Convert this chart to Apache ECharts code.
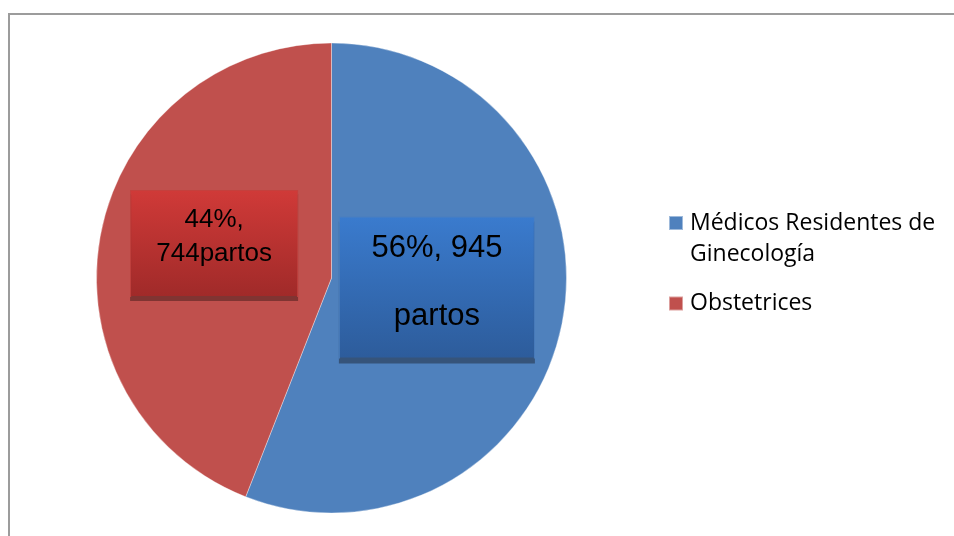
<!DOCTYPE html>
<html>
<head>
<meta charset="utf-8">
<script src="https://cdn.jsdelivr.net/npm/echarts@6/dist/echarts.min.js"></script>
<style>
  html, body { margin: 0; padding: 0; background: #ffffff; }
  #chart { width: 954px; height: 536px; }
</style>
</head>
<body>
<div id="chart"></div>
<script>
// Births attended, by who attended them
const categories = ['Médicos Residentes de Ginecología', 'Obstetrices'];
const births = [945, 744];
const unitWord = 'partos';

const sliceColors = ['#4F81BD', '#C0504D'];

const total = births.reduce((a, b) => a + b, 0);
const pct = v => Math.round(v / total * 100);

const chart = echarts.init(document.getElementById('chart'));

// label box look for each slice
const labelBoxes = [
  {
    width: 194, height: 136, padding: [0, 0, 4, 0],
    backgroundColor: new echarts.graphic.LinearGradient(0, 0, 0, 1, [
      { offset: 0, color: '#3A7BCE' }, { offset: 1, color: '#2D5C9B' }
    ]),
    borderColor: '#4A7FC0', borderWidth: 1,
    shadowColor: '#36547A', shadowOffsetY: 5, shadowBlur: 0,
    formatter: p => '{a|' + pct(p.value) + '%, ' + p.value + '}\n{b|' + unitWord + '}',
    rich: {
      a: { fontFamily: 'Liberation Sans', fontSize: 31, lineHeight: 62, color: '#000' },
      b: { fontFamily: 'Liberation Sans', fontSize: 31, lineHeight: 74, color: '#000' }
    }
  },
  {
    width: 166, height: 68, padding: [12, 0, 25, 0],
    backgroundColor: new echarts.graphic.LinearGradient(0, 0, 0, 1, [
      { offset: 0, color: '#D03A38' }, { offset: 1, color: '#A02A29' }
    ]),
    borderColor: '#C4403D', borderWidth: 1,
    shadowColor: '#803432', shadowOffsetY: 4, shadowBlur: 0,
    formatter: p => '{a|' + pct(p.value) + '%,}\n{a|' + p.value + unitWord + '}',
    rich: {
      a: { fontFamily: 'Liberation Sans', fontSize: 26, lineHeight: 34, color: '#000' }
    }
  }
];

const labelShift = [{ dx: -13, dy: -13 }, { dx: 1, dy: -12 }];

const pieData = categories.map((name, i) => ({
  name,
  value: births[i],
  itemStyle: { color: sliceColors[i] },
  label: Object.assign({ show: true, position: 'inside', align: 'center' }, labelBoxes[i])
}));

const legendRich = {
  t: { fontFamily: 'Open Sans', fontSize: 23, lineHeight: 31, color: '#000', padding: [0, 0, 0, 2] },
  p: { fontSize: 10, lineHeight: 31 }
};

chart.setOption({
  animation: false,
  backgroundColor: '#ffffff',
  graphic: [{
    type: 'rect',
    shape: { x: 9, y: 14, width: 970, height: 560 },
    style: { fill: 'none', stroke: '#9C9C9C', lineWidth: 2 },
    silent: true
  }],
  legend: [
    {
      // leading blank line keeps the marker level with the first text line
      data: [categories[0]],
      left: 668, top: 187, padding: 0,
      orient: 'vertical',
      itemWidth: 14, itemHeight: 14,
      icon: 'rect',
      formatter: n => '{p| }\n' + n.replace(' Ginecología', '\nGinecología')
        .split('\n').map(s => '{t|' + s + '}').join('\n'),
      textStyle: { rich: legendRich }
    },
    {
      data: [categories[1]],
      left: 668, top: 292, padding: 0,
      orient: 'vertical',
      itemWidth: 14, itemHeight: 14,
      icon: 'rect',
      formatter: n => '{t|' + n + '}',
      textStyle: { rich: legendRich }
    }
  ],
  series: [{
    type: 'pie',
    center: [331.5, 278],
    radius: 235,
    startAngle: 90,
    clockwise: true,
    silent: true,
    labelLine: { show: false },
    itemStyle: { borderColor: 'rgba(255,255,255,0.45)', borderWidth: 0.8 },
    labelLayout: p => labelShift[p.dataIndex],
    data: pieData
  }]
});
</script>
</body>
</html>
